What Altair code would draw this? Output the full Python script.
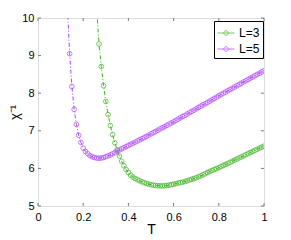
import altair as alt
import pandas as pd

# Temperatures and inverse susceptibility
T5 = [0.13, 0.14, 0.15, 0.16, 0.17, 0.18, 0.19, 0.20, 0.21, 0.22, 0.23, 0.24, 0.25,
      0.26, 0.27, 0.28, 0.29, 0.30, 0.31, 0.32, 0.33, 0.34, 0.35, 0.36, 0.37, 0.38,
      0.39, 0.40, 0.41, 0.42, 0.43, 0.44, 0.45, 0.46, 0.47, 0.48, 0.49, 0.50, 0.51,
      0.52, 0.53, 0.54, 0.55, 0.56, 0.57, 0.58, 0.59, 0.60, 0.61, 0.62, 0.63, 0.64,
      0.65, 0.66, 0.67, 0.68, 0.69, 0.70, 0.71, 0.72, 0.73, 0.74, 0.75, 0.76, 0.77,
      0.78, 0.79, 0.80, 0.81, 0.82, 0.83, 0.84, 0.85, 0.86, 0.87, 0.88, 0.89, 0.90,
      0.91, 0.92, 0.93, 0.94, 0.95, 0.96, 0.97, 0.98, 0.99, 1.00]
L5 = [10.3, 9.05, 8.18, 7.57, 7.17, 6.88, 6.69, 6.54, 6.45, 6.39, 6.34, 6.31, 6.29,
      6.275, 6.27, 6.275, 6.29, 6.31, 6.335, 6.36, 6.39, 6.42, 6.46, 6.49, 6.52, 6.55,
      6.58, 6.61, 6.64, 6.67, 6.70, 6.73, 6.76, 6.79, 6.82, 6.85, 6.885, 6.92, 6.95,
      6.98, 7.015, 7.05, 7.08, 7.11, 7.145, 7.18, 7.21, 7.24, 7.275, 7.31, 7.345, 7.38,
      7.41, 7.445, 7.48, 7.515, 7.55, 7.585, 7.62, 7.655, 7.69, 7.72, 7.755, 7.79, 7.825,
      7.86, 7.895, 7.93, 7.965, 8.00, 8.03, 8.065, 8.10, 8.13, 8.165, 8.20, 8.23, 8.265,
      8.30, 8.33, 8.365, 8.40, 8.43, 8.465, 8.50, 8.53, 8.565, 8.60]

T3 = [0.26, 0.27, 0.28, 0.29, 0.30, 0.31, 0.32, 0.33, 0.34, 0.35, 0.36, 0.37, 0.38,
      0.39, 0.40, 0.41, 0.42, 0.43, 0.44, 0.45, 0.46, 0.47, 0.48, 0.49, 0.50, 0.51,
      0.52, 0.53, 0.54, 0.55, 0.56, 0.57, 0.58, 0.59, 0.60, 0.61, 0.62, 0.63, 0.64,
      0.65, 0.66, 0.67, 0.68, 0.69, 0.70, 0.71, 0.72, 0.73, 0.74, 0.75, 0.76, 0.77,
      0.78, 0.79, 0.80, 0.81, 0.82, 0.83, 0.84, 0.85, 0.86, 0.87, 0.88, 0.89, 0.90,
      0.91, 0.92, 0.93, 0.94, 0.95, 0.96, 0.97, 0.98, 0.99, 1.00]
L3 = [10.2, 9.31, 8.71, 8.20, 7.78, 7.43, 7.14, 6.90, 6.68, 6.49, 6.33, 6.19, 6.07,
      5.97, 5.89, 5.82, 5.77, 5.73, 5.70, 5.67, 5.645, 5.62, 5.60, 5.58, 5.565, 5.555,
      5.545, 5.54, 5.535, 5.535, 5.54, 5.545, 5.555, 5.565, 5.58, 5.595, 5.61, 5.625, 5.635,
      5.65, 5.67, 5.69, 5.71, 5.73, 5.75, 5.775, 5.80, 5.83, 5.86, 5.89, 5.92, 5.945,
      5.97, 5.995, 6.02, 6.05, 6.08, 6.105, 6.13, 6.16, 6.19, 6.22, 6.25, 6.28, 6.305,
      6.335, 6.365, 6.395, 6.425, 6.45, 6.48, 6.51, 6.54, 6.565, 6.59]

series = ["L=3", "L=5"]
colors = ["#3cb41e", "#b043ff"]
x_ticks = [0, 0.2, 0.4, 0.6, 0.8, 1]
y_ticks = [5, 6, 7, 8, 9, 10]

df = pd.concat([
    pd.DataFrame({"T": T3, "v": L3, "s": series[0]}),
    pd.DataFrame({"T": T5, "v": L5, "s": series[1]}),
])

W, H = 226, 188
gray = "#7a7a7a"
font = "Liberation Sans"

xs = alt.Scale(domain=[0, 1], nice=False)
ys = alt.Scale(domain=[5, 10], nice=False, zero=False)
cs = alt.Scale(domain=series, range=colors)

sym = "M-1,0H1M0.27,0A0.27,0.27,0,1,1,-0.27,0A0.27,0.27,0,1,1,0.27,0Z"

legend = alt.Legend(
    title=None, orient="none", legendX=176, legendY=3,
    symbolType=sym, symbolSize=289, symbolStrokeWidth=1,
    symbolFillColor="transparent", strokeColor="black", fillColor="white",
    padding=3, labelFont=font, labelFontSize=12, labelColor="black",
    rowPadding=1, labelOffset=4, cornerRadius=0)

xaxis = alt.Axis(values=x_ticks, format="~g", tickSize=0, domain=False, grid=False,
                 labelFont=font, labelFontSize=11, labelColor="black", labelPadding=5,
                 labelOverlap=False, labelFlush=False,
                 title="T", titleFont=font, titleFontSize=14, titleFontWeight="normal",
                 titleColor="black", titlePadding=0)
yaxis = alt.Axis(values=y_ticks, format="d", tickSize=0, domain=False, grid=False,
                 labelFont=font, labelFontSize=11, labelColor="black", labelPadding=4,
                 labelOverlap=False, labelFlush=False, labelBound=False,
                 title="χ⁻¹", titleFont=font, titleFontSize=13, titleFontWeight="normal",
                 titleColor="black", titlePadding=0)

base = alt.Chart(df)
lines = base.mark_line(strokeWidth=1, strokeDash=[4, 2, 1, 2], clip=True).encode(
    x=alt.X("T:Q", scale=xs, axis=xaxis),
    y=alt.Y("v:Q", scale=ys, axis=yaxis),
    color=alt.Color("s:N", scale=cs, legend=legend),
    detail="s:N",
)
points = base.mark_point(shape="circle", filled=False, size=22, strokeWidth=1, clip=True).encode(
    x=alt.X("T:Q", scale=xs, axis=xaxis),
    y=alt.Y("v:Q", scale=ys, axis=yaxis),
    color=alt.Color("s:N", scale=cs, legend=legend),
)

xt = pd.DataFrame({"t": x_ticks})
yt = pd.DataFrame({"t": y_ticks})
tb = alt.Chart(xt).mark_rule(color=gray, strokeWidth=1).encode(
    x=alt.X("t:Q", scale=xs, axis=xaxis), y=alt.value(H), y2=alt.value(H - 3))
tt = alt.Chart(xt).mark_rule(color=gray, strokeWidth=1).encode(
    x=alt.X("t:Q", scale=xs, axis=xaxis), y=alt.value(0), y2=alt.value(3))
tl = alt.Chart(yt).mark_rule(color=gray, strokeWidth=1).encode(
    y=alt.Y("t:Q", scale=ys, axis=yaxis), x=alt.value(0), x2=alt.value(3))
tr = alt.Chart(yt).mark_rule(color=gray, strokeWidth=1).encode(
    y=alt.Y("t:Q", scale=ys, axis=yaxis), x=alt.value(W), x2=alt.value(W - 3))

chart = alt.layer(lines, points, tb, tt, tl, tr).properties(
    width=W, height=H,
    autosize=alt.AutoSizeParams(type="none"),
    padding={"left": 30, "top": 10, "right": 15, "bottom": 32},
).configure_view(stroke=gray, strokeWidth=1.5).configure(background="white")

chart.save("out.html", embed_options={"renderer": "svg", "actions": False})
